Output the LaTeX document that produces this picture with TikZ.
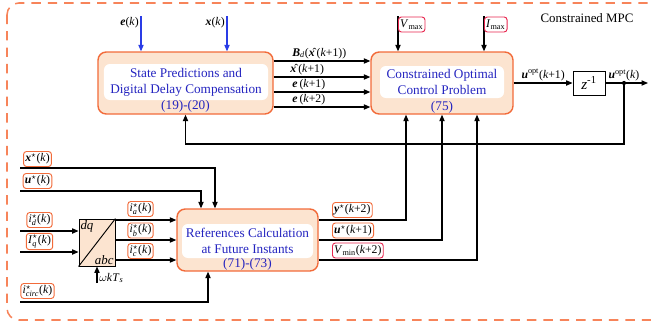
\documentclass[tikz,border=0pt]{standalone}
\usepackage{fontspec}
\setmainfont{Liberation Serif}
\usepackage{amsmath}
\usetikzlibrary{arrows.meta,positioning,calc}
\definecolor{co}{HTML}{F26B3A}
\definecolor{cp}{HTML}{FCE4D0}
\definecolor{ct}{HTML}{2424C0}
\definecolor{cb}{HTML}{2A3CE6}
\definecolor{cr}{HTML}{E8264F}
\definecolor{cd}{HTML}{F7845A}
\newcommand{\bv}[1]{\textbf{\textit{#1}}}
\newcommand{\kk}{\textit{k}}
\tikzset{
  block/.style={rectangle,draw=co,fill=cp,line width=1.2pt,rounded corners=7pt,minimum height=1.86cm},
  inbox/.style={rectangle,fill=white,rounded corners=5pt,align=center,text=ct,inner sep=0pt,font=\fontsize{11.3}{13.6}\selectfont},
  eqno/.style={text=ct,inner sep=0pt,font=\fontsize{11.3}{13.6}\selectfont},
  lab/.style={rectangle,draw=co,fill=white,rounded corners=2.5pt,line width=0.8pt,inner sep=1.5pt,minimum height=0.45cm,font=\fontsize{10}{12}\selectfont},
  labred/.style={lab,draw=cr},
  txt/.style={inner sep=1.5pt,font=\fontsize{10}{12}\selectfont},
  delay/.style={rectangle,draw,line width=0.8pt,fill=white,minimum width=0.96cm,minimum height=0.72cm,font=\fontsize{13}{15}\selectfont},
  conv/.style={rectangle,draw,line width=0.8pt,fill=cp,minimum width=1.08cm,minimum height=1.41cm},
  wire/.style={line width=0.9pt,-{Triangle[length=5.5pt,width=4.5pt]}},
}
\begin{document}
\begin{tikzpicture}[x=0.03cm,y=-0.03cm]
  \useasboundingbox (0,0) rectangle (651,328);
  \draw[cd,line width=1.3pt,dash pattern=on 8pt off 6pt,rounded corners=10pt] (7,3) rectangle (680,320);
  \node[font=\fontsize{11}{13}\selectfont] (mpc) at (587,18) {Constrained MPC};

  % main blocks
  \node[block,minimum width=5.25cm] (pred) at (185.5,83) {};
  \node[inbox,minimum width=4.92cm,minimum height=1.08cm] (predtxt) at (186,82) {State Predictions and\\Digital Delay Compensation};
  \node[eqno] at (185.5,106) {(19)-(20)};
  \node[block,minimum width=4.26cm] (opt) at (442,83) {};
  \node[inbox,minimum width=3.72cm,minimum height=0.96cm] (opttxt) at (442,82) {Constrained Optimal\\Control Problem};
  \node[eqno] at (442,107) {(75)};
  \node[block,minimum width=4.23cm] (refs) at (247.5,240) {};
  \node[inbox,minimum width=3.93cm,minimum height=1.02cm] (refstxt) at (247.5,241) {References Calculation\\at Future Instants};
  \node[eqno] at (247.5,264) {(71)-(73)};
  \node[delay] (zinv) at (589,83) {\textit{z}\textsuperscript{-1}};
  \node[conv] (dq) at (97,242.5) {};
  \draw[line width=0.8pt] (dq.south west) -- (dq.north east);
  \node[anchor=north west,inner sep=1.5pt,font=\fontsize{11}{13}\selectfont] at (dq.north west) {\textit{dq}};
  \node[anchor=south east,inner sep=1.5pt,font=\fontsize{11}{13}\selectfont] at (dq.south east) {\textit{abc}};

  % inputs on top
  \coordinate (ein) at (141,16);
  \coordinate (xin) at (227,16);
  \coordinate (vmax) at (398,16);
  \coordinate (imax) at (484,16);
  \draw[wire,cb] (ein) -- node[txt,left,pos=0.2,black]{\bv{e}(\kk)} (ein |- pred.north);
  \draw[wire,cb] (xin) -- node[txt,left,pos=0.2,black]{\bv{x}(\kk)} (xin |- pred.north);
  \draw[wire] (vmax) -- node[labred,right,pos=0.24]{\textit{V}\textsubscript{max}} (vmax |- opt.north);
  \draw[wire] (imax) -- node[labred,right,pos=0.24]{\textit{I}\textsubscript{max}} (imax |- opt.north);

  % predictions to optimizer
  \draw[wire] ([yshift=0.66cm]pred.east) -- node[txt,pos=0.17,anchor=south west]{\bv{B}\textsubscript{\textit{d}}(\^{\bv{x}}\,(\kk+1))} ([yshift=0.66cm]opt.west);
  \draw[wire] ([yshift=0.18cm]pred.east) -- node[txt,pos=0.15,anchor=south west]{\^{\bv{x}}\,(\kk+1)} ([yshift=0.18cm]opt.west);
  \draw[wire] ([yshift=-0.27cm]pred.east) -- node[txt,pos=0.17,anchor=south west]{\bv{e}\,(\kk+1)} ([yshift=-0.27cm]opt.west);
  \draw[wire] ([yshift=-0.72cm]pred.east) -- node[txt,pos=0.17,anchor=south west]{\bv{e}\,(\kk+2)} ([yshift=-0.72cm]opt.west);

  % output and feedback
  \coordinate (tap) at (624,83);
  \coordinate (uout) at (648,83);
  \coordinate (fb) at (185.5,144);
  \draw[wire] (opt.east) -- node[txt,above]{\bv{u}\textsuperscript{opt}(\kk+1)} (zinv.west);
  \draw[wire] (zinv.east) -- (uout);
  \fill (tap) circle (1.8pt);
  \node[txt,above] at (tap) {\bv{u}\textsuperscript{opt}(\kk)};
  \draw[wire] (tap) |- (fb) -- (pred.south);

  % references to optimizer
  \draw[wire] ([yshift=0.6cm]refs.east) -| ([xshift=-1.08cm]opt.south);
  \draw[wire] (refs.east) -| (opt.south);
  \draw[wire] ([yshift=-0.6cm]refs.east) -| ([xshift=1.05cm]opt.south);
  \node[lab,anchor=west] at (332,210) {\bv{y}$^\star$(\kk+2)};
  \node[lab,anchor=west] at (332,230.5) {\bv{u}$^\star$(\kk+1)};
  \node[labred,anchor=west] at (332,250.5) {\textit{V}\textsubscript{min}(\kk+2)};

  % reference inputs
  \coordinate (xref) at (20,168);
  \coordinate (uref) at (20,191);
  \coordinate (idref) at (20,231);
  \coordinate (iqref) at (20,252);
  \coordinate (icref) at (20,302);
  \coordinate (wkt) at (97,283);
  \draw[wire] (xref) -| ([xshift=-0.975cm]refs.north);
  \draw[wire] (uref) -| ([xshift=-1.395cm]refs.north);
  \draw[wire] (icref) -| ([xshift=-1.185cm]refs.south);
  \draw[wire] (idref) -- (idref -| dq.west);
  \draw[wire] (iqref) -- (iqref -| dq.west);
  \draw[wire] (wkt) -- node[txt,right,pos=0.3]{$\omega$\kk\textit{T}\textsubscript{\textit{s}}} (dq.south);
  \node[lab] at (37.5,159) {\bv{x}$^\star$(\kk)};
  \node[lab] at (37.5,181) {\bv{u}$^\star$(\kk)};
  \node[lab] at (39.5,220) {\textit{i}$^\star_{\mathit{d}}$(\kk)};
  \node[lab] at (39.5,241.5) {\textit{I}$^\star_{\mathit{q}}$(\kk)};
  \node[lab] at (37.5,291) {\textit{i}$^\star_{\mathit{circ}}$(\kk)};

  % dq/abc to references
  \draw[wire] ([yshift=0.6cm]refs.west -| dq.east) -- ([yshift=0.6cm]refs.west);
  \draw[wire] (refs.west -| dq.east) -- (refs.west);
  \draw[wire] ([yshift=-0.6cm]refs.west -| dq.east) -- ([yshift=-0.6cm]refs.west);
  \node[lab] at (140.5,209) {\textit{i}$^\star_{\mathit{a}}$(\kk)};
  \node[lab] at (140.5,230.5) {\textit{i}$^\star_{\mathit{b}}$(\kk)};
  \node[lab] at (140.5,251) {\textit{i}$^\star_{\mathit{c}}$(\kk)};
\end{tikzpicture}
\end{document}
